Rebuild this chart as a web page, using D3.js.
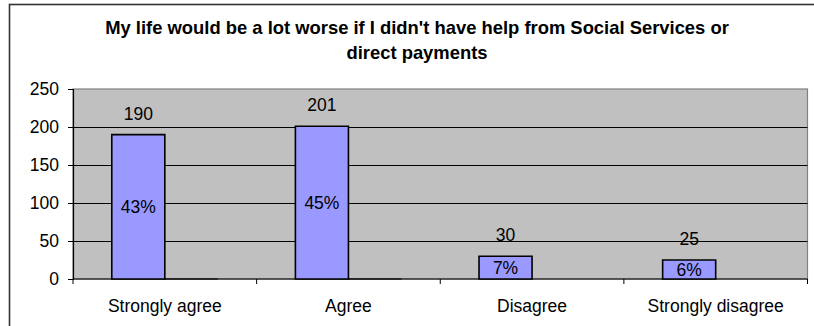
<!DOCTYPE html>
<html>
<head>
<meta charset="utf-8">
<script src="https://cdn.jsdelivr.net/npm/d3@7"></script>
<style>
  html, body { margin: 0; padding: 0; background: #fff; }
  svg { display: block; font-family: "Liberation Sans", Arial, sans-serif; }
</style>
</head>
<body>
<svg id="chart" width="814" height="326"></svg>
<script>
// Survey responses
const categories = ["Strongly agree", "Agree", "Disagree", "Strongly disagree"];
const counts = [190, 201, 30, 25];
const percents = [43, 45, 7, 6];
const otherCounts = [0, 0, null, null];
const yTicks = [0, 50, 100, 150, 200, 250];
const titleLines = [
  "My life would be a lot worse if I didn't have help from Social Services or",
  "direct payments"
];

const svg = d3.select("#chart");
const W = 814, H = 326;
const plot = { left: 73, right: 807.5, top: 89, bottom: 279 };

// Outer chart frame
svg.append("rect")
  .attr("x", 9.5).attr("y", 4.5)
  .attr("width", W + 10).attr("height", H + 10)
  .attr("fill", "#fff").attr("stroke", "#333").attr("stroke-width", 1.6);

// Title
svg.append("g").selectAll("text").data(titleLines).join("text")
  .attr("x", 417).attr("y", (d, i) => 34 + i * 25)
  .attr("text-anchor", "middle")
  .attr("font-size", 18.4).attr("font-weight", "bold").attr("fill", "#000")
  .text(d => d);

const x0 = d3.scaleBand()
  .domain(categories)
  .range([plot.left, plot.right])
  .paddingInner(0.4223)
  .paddingOuter(0.2112);
const x1 = d3.scaleBand().domain([0, 1]).range([0, x0.bandwidth()]);
const y = d3.scaleLinear().domain([0, 250]).range([plot.bottom, plot.top]);

// Plot area
svg.append("rect")
  .attr("x", plot.left).attr("y", plot.top)
  .attr("width", plot.right - plot.left).attr("height", plot.bottom - plot.top)
  .attr("fill", "#c0c0c0").attr("stroke", "#808080").attr("stroke-width", 1.2);

// Gridlines
svg.append("g").selectAll("line").data(yTicks.filter(t => t > 0 && t < 250)).join("line")
  .attr("x1", plot.left).attr("x2", plot.right)
  .attr("y1", d => Math.round(y(d)) + 0.5).attr("y2", d => Math.round(y(d)) + 0.5)
  .attr("stroke", "#000").attr("stroke-width", 1);

// Y axis
const yAxis = svg.append("g")
  .attr("transform", `translate(${plot.left},0)`)
  .call(d3.axisLeft(y).tickValues(yTicks).tickSize(5).tickPadding(9));
yAxis.select(".domain").attr("stroke", "#000").attr("stroke-width", 1.2);
yAxis.selectAll(".tick line").attr("stroke", "#000");
yAxis.selectAll(".tick text")
  .attr("font-size", 17.5).attr("fill", "#000")
  .attr("font-family", '"Liberation Sans", Arial, sans-serif');

// X axis with ticks on category boundaries
const xAxisG = svg.append("g").attr("transform", `translate(0,${plot.bottom})`);
xAxisG.append("line")
  .attr("x1", plot.left).attr("x2", plot.right)
  .attr("stroke", "#000").attr("stroke-width", 1.2);
const step = (plot.right - plot.left) / categories.length;
xAxisG.selectAll("line.tick").data(d3.range(categories.length + 1)).join("line")
  .attr("class", "tick")
  .attr("x1", i => plot.left + i * step).attr("x2", i => plot.left + i * step)
  .attr("y1", 0).attr("y2", 5)
  .attr("stroke", "#000");
xAxisG.selectAll("text").data(categories).join("text")
  .attr("x", d => x0(d) + x0.bandwidth() / 2)
  .attr("y", 33)
  .attr("text-anchor", "middle")
  .attr("font-size", 17.5).attr("fill", "#000")
  .text(d => d);

// Bars drawn as paths so zero-height bars still show their outline
function barPath(xStart, w, v) {
  return `M${xStart},${y(0)}H${xStart + w}V${y(v)}H${xStart}Z`;
}
const barData = categories.map((c, i) => ({ c, v: counts[i], p: percents[i] }));
svg.append("g").selectAll("path").data(barData).join("path")
  .attr("d", d => barPath(x0(d.c) + x1(0), x1.bandwidth(), d.v))
  .attr("fill", "#9999ff").attr("stroke", "#000").attr("stroke-width", 1.6);

const otherData = categories.map((c, i) => ({ c, v: otherCounts[i] })).filter(d => d.v !== null);
svg.append("g").selectAll("path").data(otherData).join("path")
  .attr("d", d => barPath(x0(d.c) + x1(1), x1.bandwidth(), d.v))
  .attr("fill", "#993366").attr("stroke", "#000").attr("stroke-width", 1.2);

// Count labels above bars
svg.append("g").selectAll("text").data(barData).join("text")
  .attr("x", d => x0(d.c) + x1(0) + x1.bandwidth() / 2)
  .attr("y", d => y(d.v) - 15)
  .attr("text-anchor", "middle")
  .attr("font-size", 17.5).attr("fill", "#000")
  .text(d => d.v);

// Percentage labels inside bars
svg.append("g").selectAll("text").data(barData).join("text")
  .attr("x", d => x0(d.c) + x1(0) + x1.bandwidth() / 2)
  .attr("y", d => (y(d.v) + y(0)) / 2 + 6)
  .attr("text-anchor", "middle")
  .attr("font-size", 17.5).attr("fill", "#000")
  .text(d => d.p + "%");
</script>
</body>
</html>
